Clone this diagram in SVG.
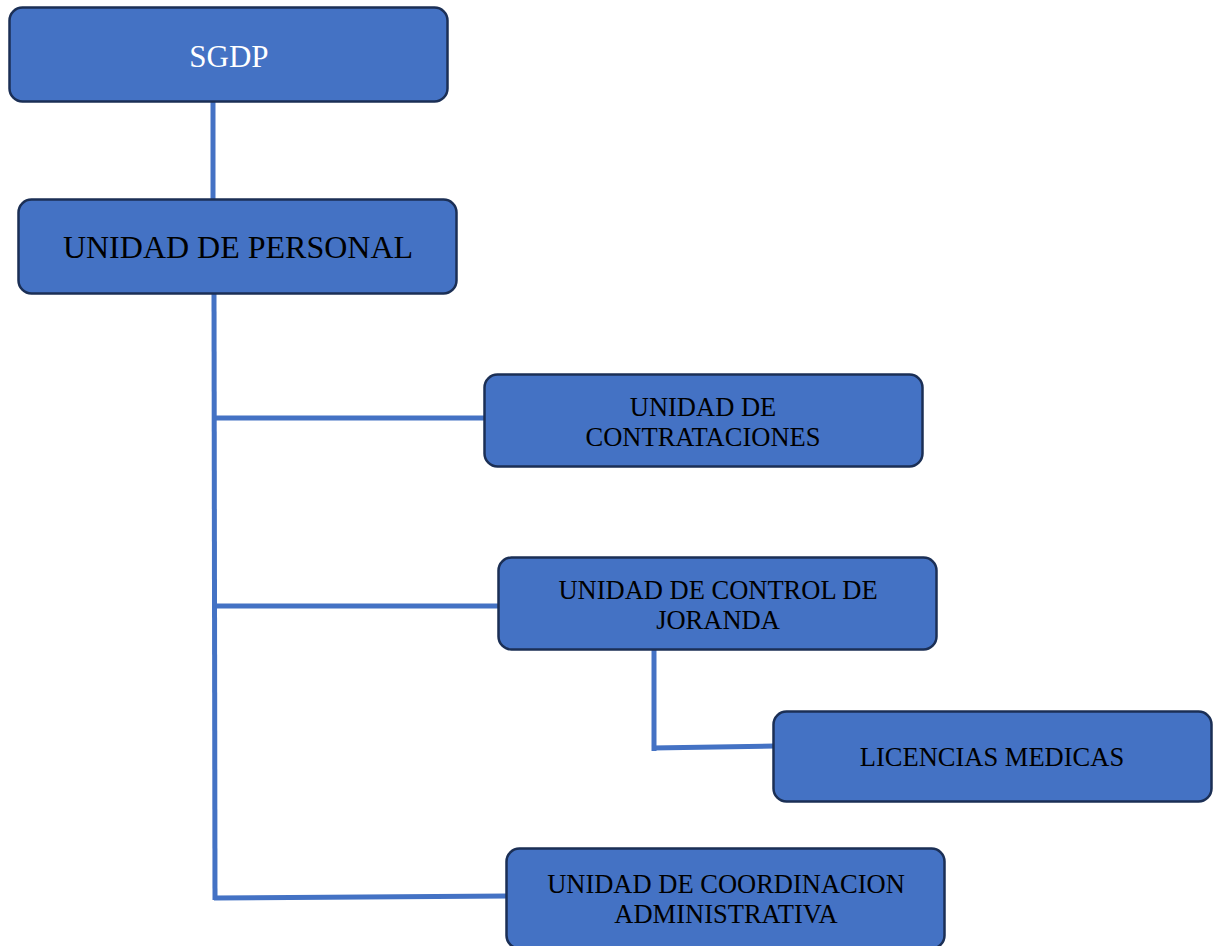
<svg xmlns="http://www.w3.org/2000/svg" width="1215" height="946" viewBox="0 0 1215 946">
<style>
.box{fill:#4472C4;stroke:#1B2F55;stroke-width:2.5}
.c{stroke:#4472C4;stroke-width:5;fill:none}
.t{font-family:"Liberation Serif","Times New Roman",serif;text-anchor:middle;fill:#000}
.s{font-size:26.5px}
</style>
<rect width="1215" height="946" fill="#fff"/>
<g id="connectors">
<line class="c" x1="213" y1="100" x2="213" y2="201"/>
<line class="c" x1="214" y1="292" x2="215" y2="900"/>
<line class="c" x1="214" y1="418" x2="486" y2="418"/>
<line class="c" x1="214" y1="606" x2="500" y2="606"/>
<polyline class="c" points="654,648 654,751"/>
<line class="c" x1="652" y1="748" x2="775" y2="746"/>
<line class="c" x1="214" y1="898" x2="508" y2="896"/>
</g>
<g id="sgdp">
<rect class="box" x="9.5" y="7.5" width="438" height="94" rx="13"/>
<text class="t" x="229" y="67" font-size="31" style="fill:#fff">SGDP</text>
</g>
<g id="unidad-personal">
<rect class="box" x="18.5" y="199.5" width="438" height="94" rx="13"/>
<text class="t" x="238" y="258" font-size="32">UNIDAD DE PERSONAL</text>
</g>
<g id="contrataciones">
<rect class="box" x="484.5" y="374.5" width="438" height="92" rx="13"/>
<text class="t s" x="703" y="416">UNIDAD DE</text>
<text class="t s" x="703" y="446">CONTRATACIONES</text>
</g>
<g id="control-jornada">
<rect class="box" x="498.5" y="557.5" width="438" height="92" rx="13"/>
<text class="t s" x="718" y="599">UNIDAD DE CONTROL DE</text>
<text class="t s" x="718" y="629">JORANDA</text>
</g>
<g id="licencias">
<rect class="box" x="773.5" y="711.5" width="438" height="90" rx="13"/>
<text class="t s" x="992" y="766">LICENCIAS MEDICAS</text>
</g>
<g id="coordinacion">
<rect class="box" x="506.5" y="848.5" width="438" height="100" rx="13"/>
<text class="t s" x="726" y="893">UNIDAD DE COORDINACION</text>
<text class="t s" x="726" y="923">ADMINISTRATIVA</text>
</g>
</svg>
